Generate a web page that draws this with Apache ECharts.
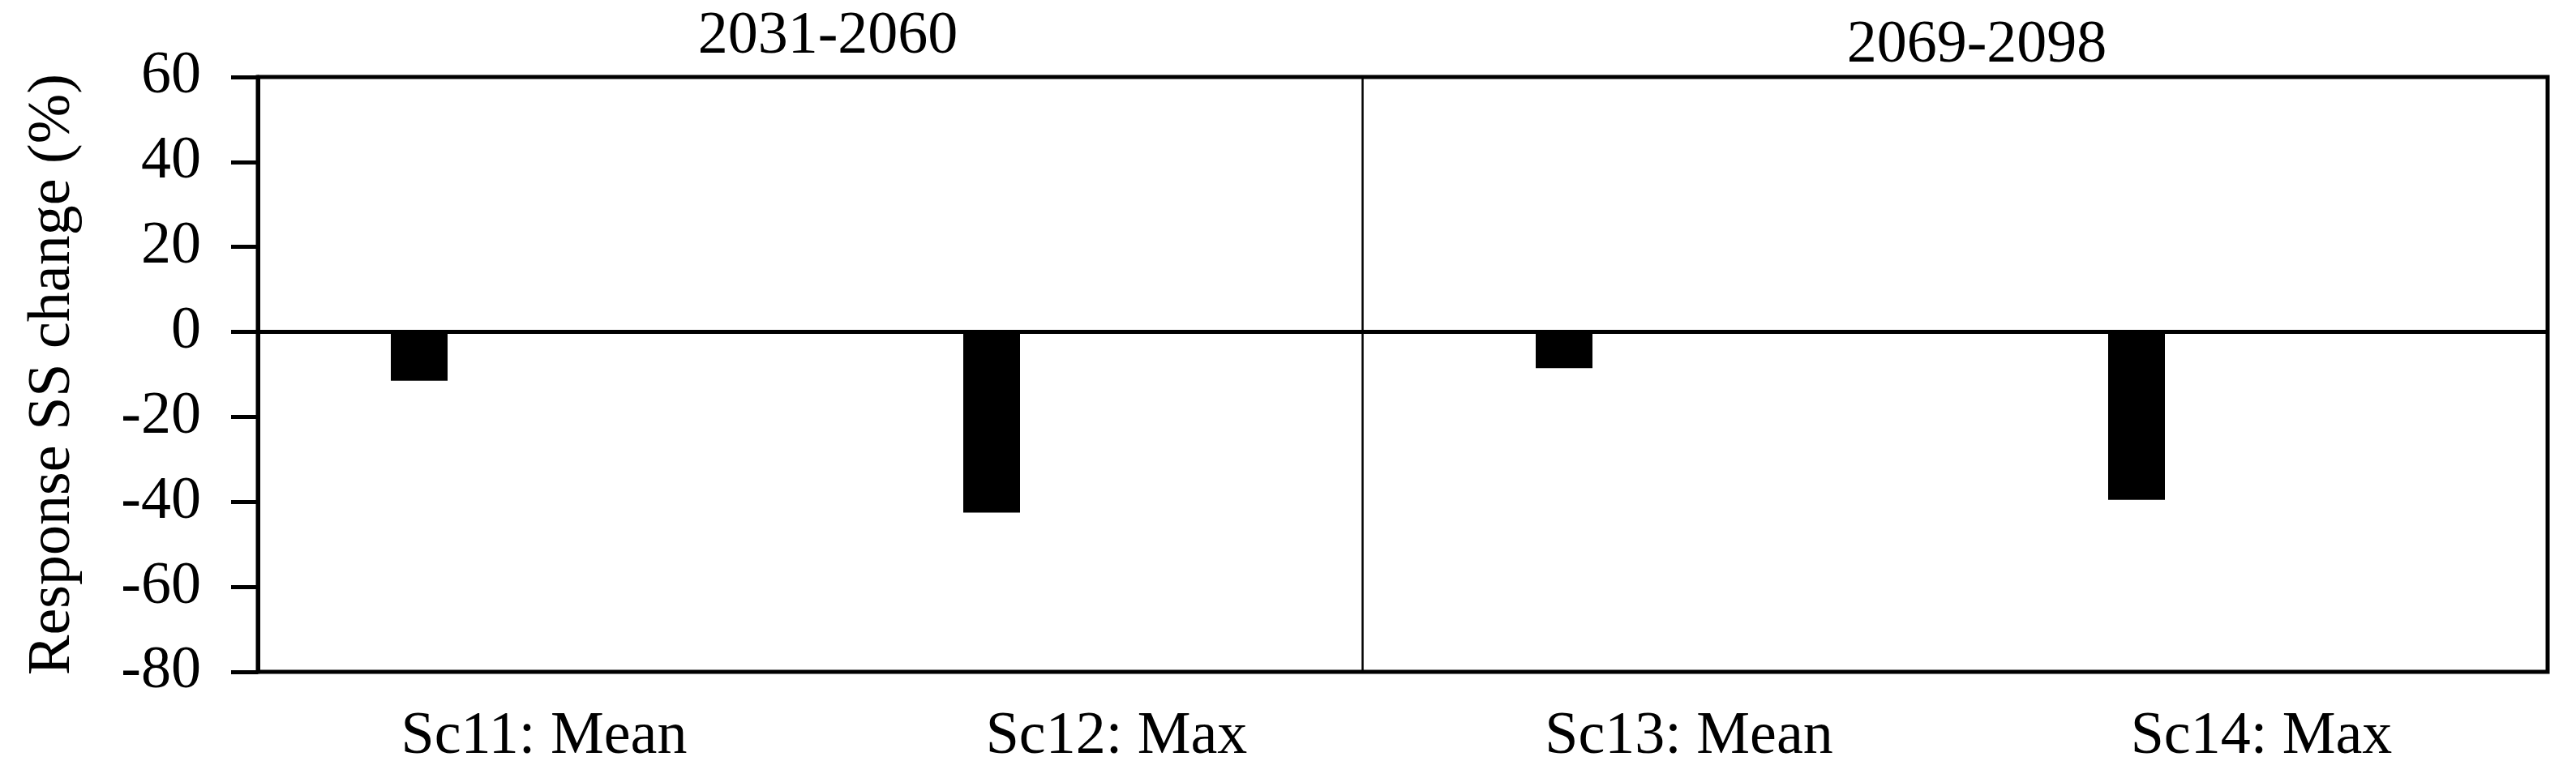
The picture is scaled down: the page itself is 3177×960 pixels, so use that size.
<!DOCTYPE html>
<html>
<head>
<meta charset="utf-8">
<script src="https://cdn.jsdelivr.net/npm/echarts@6/dist/echarts.min.js"></script>
<style>
  html, body { margin: 0; padding: 0; background: #fff; }
  #chart { width: 3177px; height: 960px; }
</style>
</head>
<body>
<div id="chart"></div>
<script>
var categories = ['Sc11: Mean', 'Sc12: Max', 'Sc13: Mean', 'Sc14: Max'];
var ssChange = [-11.5, -42.5, -8.5, -39.5];
var periods = ['2031-2060', '2069-2098'];
var yTicks = { min: -80, max: 60, step: 20 };
var dividerAt = 1.933; // between the two periods, in category units

var font = "'Liberation Serif', 'Times New Roman', serif";
var myChart = echarts.init(document.getElementById('chart'));

var option = {
  animation: false,
  backgroundColor: '#fff',
  title: [
    { text: periods[0], left: 1016, top: 4, textAlign: 'center',
      textStyle: { fontFamily: font, fontSize: 74, fontWeight: 'normal', color: '#000' } },
    { text: periods[1], left: 2433, top: 15, textAlign: 'center',
      textStyle: { fontFamily: font, fontSize: 74, fontWeight: 'normal', color: '#000' } }
  ],
  grid: {
    left: 318, right: 35, top: 95, bottom: 131,
    show: true, borderColor: '#000', borderWidth: 5, backgroundColor: 'transparent'
  },
  xAxis: [
    {
      type: 'category',
      data: categories,
      axisLine: { show: false },
      axisTick: { show: false },
      axisLabel: { margin: 44, fontFamily: font, fontSize: 74, color: '#000' }
    },
    { type: 'value', min: 0, max: categories.length, show: false }
  ],
  yAxis: {
    type: 'value',
    min: yTicks.min, max: yTicks.max, interval: yTicks.step,
    name: 'Response SS change (%)',
    nameLocation: 'middle',
    nameGap: 215,
    nameTextStyle: { fontFamily: font, fontSize: 74, color: '#000' },
    axisLine: { show: true, lineStyle: { color: '#000', width: 5 } },
    axisTick: { show: true, length: 33, lineStyle: { color: '#000', width: 5 } },
    axisLabel: { margin: 70, fontFamily: font, fontSize: 74, color: '#000' },
    splitLine: { show: false }
  },
  series: [
    {
      type: 'bar',
      data: ssChange,
      barWidth: 70,
      barGap: '340%',
      itemStyle: { color: '#000' },
      markLine: {
        silent: true, symbol: 'none', label: { show: false },
        lineStyle: { color: '#000', width: 5, type: 'solid' },
        data: [{ yAxis: 0 }]
      }
    },
    {
      // empty companion series, keeps the bars left of each category centre
      type: 'bar',
      data: [],
      barWidth: 70
    },
    {
      type: 'line',
      xAxisIndex: 1,
      data: [],
      markLine: {
        silent: true, symbol: 'none', label: { show: false },
        lineStyle: { color: '#000', width: 2.5, type: 'solid' },
        data: [{ xAxis: dividerAt }]
      }
    }
  ]
};

myChart.setOption(option);
</script>
</body>
</html>
